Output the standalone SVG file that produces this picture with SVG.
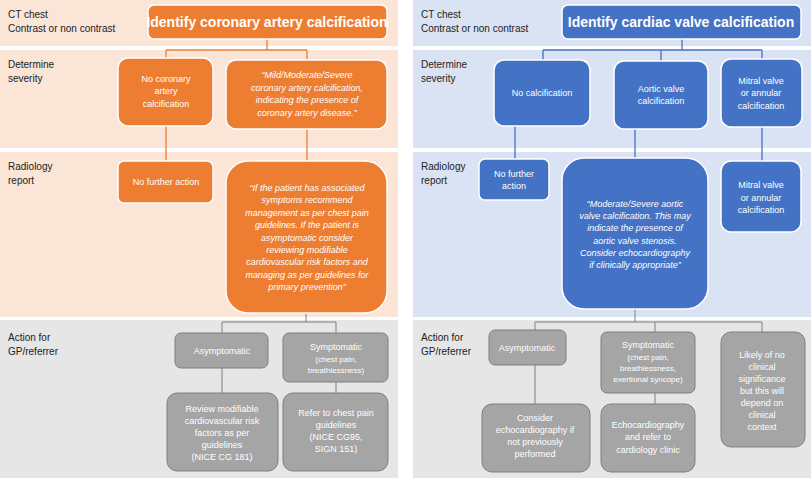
<svg xmlns="http://www.w3.org/2000/svg" width="811" height="478" viewBox="0 0 811 478">
<style>
text{font-family:"Liberation Sans",Arial,sans-serif;font-size:9px;fill:#fff;text-anchor:middle}
.lab{fill:#222;text-anchor:start;font-size:10px}
.it{font-style:italic}
.t{font-size:14px;font-weight:bold}
.o{fill:#ed7d31;stroke:#fff;stroke-width:1.5}
.b{fill:#4472c4;stroke:#fff;stroke-width:1.5}
.g{fill:#a5a5a5;stroke:#7f7f7f;stroke-width:1}
.lo{stroke:#ed7d31;stroke-width:1.3;fill:none}
.lb{stroke:#4472c4;stroke-width:1.3;fill:none}
.lg{stroke:#7f7f7f;stroke-width:1;fill:none}
</style>
<rect width="811" height="478" fill="#fff"/>
<g id="bands">
<rect x="0" y="0" width="398" height="46" fill="#fbe5d6"/>
<rect x="0" y="50" width="398" height="98" fill="#fbe5d6"/>
<rect x="0" y="152" width="398" height="165" fill="#fbe5d6"/>
<rect x="0" y="320" width="398" height="158" fill="#e7e6e6"/>
<rect x="413" y="0" width="398" height="46" fill="#dae3f3"/>
<rect x="413" y="50" width="398" height="98" fill="#dae3f3"/>
<rect x="413" y="152" width="398" height="165" fill="#dae3f3"/>
<rect x="413" y="320" width="398" height="158" fill="#e7e6e6"/>
</g>
<g id="labels">
<text class="lab" x="8" y="18">CT chest</text><text class="lab" x="8" y="32">Contrast or non contrast</text>
<text class="lab" x="8" y="68">Determine</text><text class="lab" x="8" y="82">severity</text>
<text class="lab" x="8" y="170">Radiology</text><text class="lab" x="8" y="184">report</text>
<text class="lab" x="8" y="341">Action for</text><text class="lab" x="8" y="355">GP/referrer</text>
<text class="lab" x="421" y="18">CT chest</text><text class="lab" x="421" y="32">Contrast or non contrast</text>
<text class="lab" x="421" y="68">Determine</text><text class="lab" x="421" y="82">severity</text>
<text class="lab" x="421" y="170">Radiology</text><text class="lab" x="421" y="184">report</text>
<text class="lab" x="421" y="341">Action for</text><text class="lab" x="421" y="355">GP/referrer</text>
</g>
<g id="connectors">
<path class="lo" d="M267 39V50M166 50H307M166 50V58M307 50V60M166 126V161M307 129V161"/>
<path class="lg" d="M306 313V322M222 322H336M222 322V333M336 322V333M222 368V393M336 382V393"/>
<path class="lb" d="M682 39V50M543 50H762M543 50V60M661 50V61M762 50V59M515 126V159M635 129V158M762 127V161"/>
<path class="lg" d="M635 309V322M535 322H762M535 322V330M655 322V332M762 322V332M535 365V404M655 393V404"/>
</g>
<g id="n-l-title"><rect class="o" x="148" y="5" width="239" height="34" rx="6"/><text class="t" x="267" y="27">Identify coronary artery calcification</text></g>
<g id="n-l-nocac"><rect class="o" x="118" y="58" width="95" height="68" rx="10"/><text x="166" y="82">No coronary</text><text x="166" y="94">artery</text><text x="166" y="107">calcification</text></g>
<g id="n-l-mild"><rect class="o" x="226" y="60" width="161" height="69" rx="10"/><text class="it" x="307" y="78">“Mild/Moderate/Severe</text><text class="it" x="307" y="91">coronary artery calcification,</text><text class="it" x="307" y="103">indicating the presence of</text><text class="it" x="307" y="116">coronary artery disease.”</text></g>
<g id="n-l-nfa"><rect class="o" x="118" y="161" width="95" height="42" rx="6"/><text x="166" y="185">No further action</text></g>
<g id="n-l-report"><rect class="o" x="226" y="161" width="161" height="152" rx="22"/>
<text class="it" x="307" y="191">“If the patient has associated</text><text class="it" x="307" y="203">symptoms recommend</text><text class="it" x="307" y="216">management as per chest pain</text><text class="it" x="307" y="228">guidelines. If the patient is</text><text class="it" x="307" y="241">asymptomatic consider</text><text class="it" x="307" y="253">reviewing modifiable</text><text class="it" x="307" y="265">cardiovascular risk factors and</text><text class="it" x="307" y="278">managing as per guidelines for</text><text class="it" x="307" y="290">primary prevention”</text></g>
<g id="n-l-asym"><rect class="g" x="175" y="333" width="93" height="35" rx="6"/><text x="222" y="354">Asymptomatic</text></g>
<g id="n-l-sym"><rect class="g" x="283" y="333" width="105" height="49" rx="6"/><text x="336" y="350">Symptomatic</text><text x="336" y="362" style="font-size:8px">(chest pain,</text><text x="336" y="373" style="font-size:8px">breathlessness)</text></g>
<g id="n-l-review"><rect class="g" x="167" y="393" width="111" height="78" rx="10"/><text x="222" y="412">Review modifiable</text><text x="222" y="424">cardiovascular risk</text><text x="222" y="436">factors as per</text><text x="222" y="448">guidelines</text><text x="222" y="460">(NICE CG 181)</text></g>
<g id="n-l-refer"><rect class="g" x="283" y="393" width="105" height="78" rx="10"/><text x="336" y="416">Refer to chest pain</text><text x="336" y="428">guidelines</text><text x="336" y="440">(NICE CG95,</text><text x="336" y="452">SIGN 151)</text></g>
<g id="n-r-title"><rect class="b" x="562" y="5" width="239" height="34" rx="6"/><text class="t" x="681" y="27">Identify cardiac valve calcification</text></g>
<g id="n-r-nocalc"><rect class="b" x="494" y="60" width="96" height="66" rx="10"/><text x="542" y="96">No calcification</text></g>
<g id="n-r-aortic"><rect class="b" x="614" y="61" width="94" height="68" rx="10"/><text x="661" y="92">Aortic valve</text><text x="661" y="104">calcification</text></g>
<g id="n-r-mitral"><rect class="b" x="721" y="59" width="81" height="68" rx="10"/><text x="761" y="84">Mitral valve</text><text x="761" y="96">or annular</text><text x="761" y="109">calcification</text></g>
<g id="n-r-nfa"><rect class="b" x="479" y="159" width="70" height="41" rx="6"/><text x="514" y="177">No further</text><text x="514" y="189">action</text></g>
<g id="n-r-report"><rect class="b" x="562" y="158" width="146" height="151" rx="22"/><text class="it" x="635" y="207">“Moderate/Severe aortic</text><text class="it" x="635" y="219">valve calcification. This may</text><text class="it" x="635" y="231">indicate the presence of</text><text class="it" x="635" y="244">aortic valve stenosis.</text><text class="it" x="635" y="256">Consider echocardiography</text><text class="it" x="635" y="268">if clinically appropriate”</text></g>
<g id="n-r-mitral2"><rect class="b" x="721" y="161" width="80" height="71" rx="10"/><text x="761" y="188">Mitral valve</text><text x="761" y="201">or annular</text><text x="761" y="213">calcification</text></g>
<g id="n-r-asym"><rect class="g" x="489" y="330" width="77" height="35" rx="6"/><text x="527" y="351">Asymptomatic</text></g>
<g id="n-r-sym"><rect class="g" x="601" y="332" width="94" height="61" rx="6"/><text x="648" y="348">Symptomatic</text><text x="648" y="360" style="font-size:8px">(chest pain,</text><text x="648" y="371" style="font-size:8px">breathlessness,</text><text x="648" y="382" style="font-size:8px">exertional syncope)</text></g>
<g id="n-r-likely"><rect class="g" x="721" y="332" width="84" height="115" rx="10"/><text x="762" y="358">Likely of no</text><text x="762" y="370">clinical</text><text x="762" y="382">significance</text><text x="762" y="394">but this will</text><text x="762" y="406">depend on</text><text x="762" y="418">clinical</text><text x="762" y="430">context</text></g>
<g id="n-r-consider"><rect class="g" x="482" y="404" width="108" height="68" rx="10"/><text x="535" y="421">Consider</text><text x="535" y="433">echocardiography if</text><text x="535" y="445">not previously</text><text x="535" y="457">performed</text></g>
<g id="n-r-echo"><rect class="g" x="601" y="404" width="94" height="68" rx="10"/><text x="648" y="428">Echocardiography</text><text x="648" y="440">and refer to</text><text x="648" y="453">cardiology clinic</text></g>
</svg>
